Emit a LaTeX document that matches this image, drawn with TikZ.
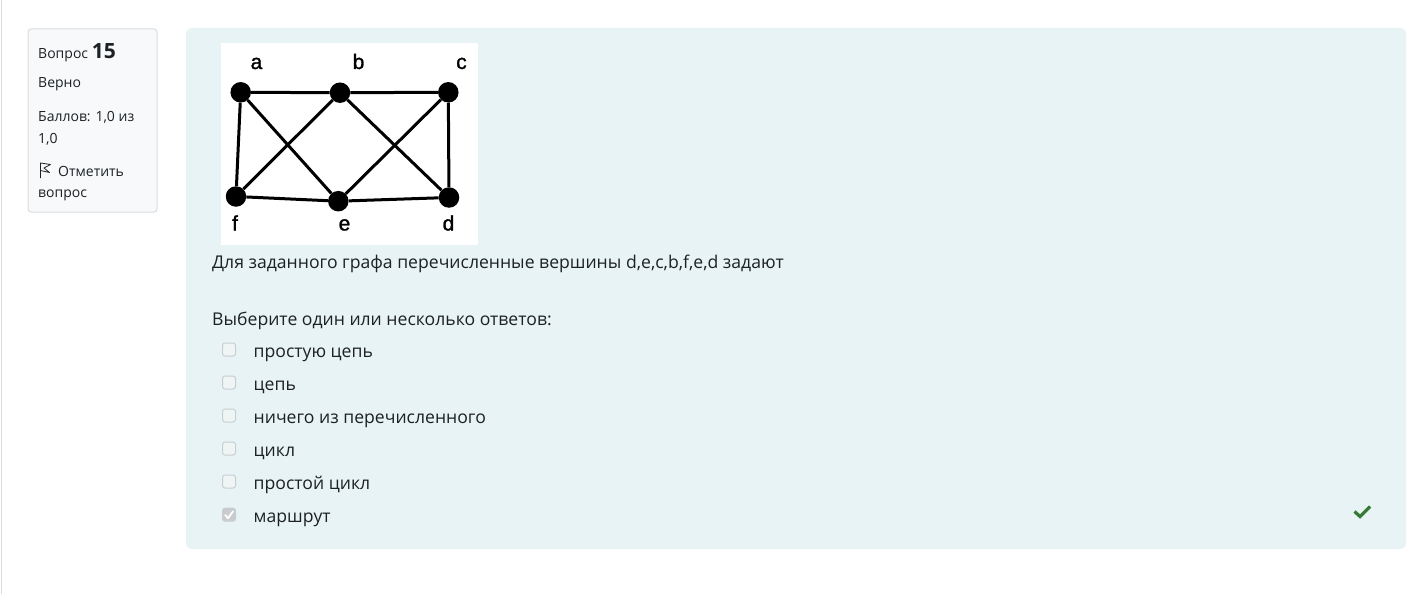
\documentclass[tikz,border=0pt]{standalone}
\usepackage{fontspec}
\setmainfont{Open Sans}
\newfontfamily\labfont[FakeBold=1.2]{Liberation Sans}
\definecolor{panel}{HTML}{E7F3F5}
\definecolor{infobg}{HTML}{F8F9FA}
\definecolor{infoline}{HTML}{D9DDE1}
\definecolor{txt}{HTML}{1D2125}
\definecolor{boxline}{HTML}{C9CED2}
\definecolor{boxfill}{HTML}{EFF4F5}
\definecolor{boxchk}{HTML}{C8CCCF}
\definecolor{okgreen}{HTML}{357A32}
\begin{document}
\begin{tikzpicture}[x=1pt,y=-1pt,
  vtx/.style={circle,fill=black,inner sep=0pt,minimum size=20.5pt},
  edge/.style={line width=3pt},
  glabel/.style={font=\labfont\fontsize{21}{21}\selectfont,anchor=base,inner sep=0pt},
  uitext/.style={font=\fontsize{17.6}{17.6}\selectfont,text=txt,anchor=base west,inner sep=0pt},
  infotext/.style={font=\fontsize{14}{14}\selectfont,text=txt,anchor=base west,inner sep=0pt},
  cbox/.style={draw=boxline,fill=boxfill,line width=1pt,rounded corners=2.5pt,minimum size=13pt,inner sep=0pt}]
\useasboundingbox (0,0) rectangle (1422,594);
\fill[white] (0,0) rectangle (1422,594);
% left border line
\draw[infoline,line width=1.2pt] (1.5,0) -- (1.5,594);
% info box
\draw[infoline,fill=infobg,line width=1pt,rounded corners=3pt] (28,29) rectangle (157,212);
\node[infotext] (q) at (38,59) {Вопрос\ \fontsize{21}{21}\selectfont\bfseries 15};
\node[infotext] (st) at (38,88) {Верно};
\node[infotext] (sc1) at (38,121.5) {Баллов: 1,0 из};
\node[infotext] (sc2) at (38,143) {1,0};
\node[infotext] (fl) at (58,176.5) {Отметить};
\node[infotext] (fl2) at (38,197) {вопрос};
% flag icon
\draw[txt,line width=0.8pt,line join=round] (40.5,178) -- (40.5,163) -- (50.5,164.5) -- (44,168) -- (49.5,172.5) -- (40.5,170.5);
% main panel
\fill[panel,rounded corners=6pt] (186,28) rectangle (1406,549);
% graph image
\fill[white] (220.7,42.7) rectangle (477.7,245);
\node[vtx] (a) at (240.7,92.3) {};
\node[vtx] (b) at (340,92.7) {};
\node[vtx] (c) at (448.3,92.3) {};
\node[vtx] (f) at (236,196.5) {};
\node[vtx] (e) at (338.3,201.2) {};
\node[vtx] (d) at (449,197.5) {};
\draw[edge] (a) -- (b);
\draw[edge] (b) -- (c);
\draw[edge] (a) -- (f);
\draw[edge] (c) -- (d);
\draw[edge] (f) -- (e);
\draw[edge] (e) -- (d);
\draw[edge] (a) -- (e);
\draw[edge] (f) -- (b);
\draw[edge] (b) -- (d);
\draw[edge] (e) -- (c);
\node[glabel] (la) at (256.5,69) {a};
\node[glabel] (lb) at (358.5,69) {b};
\node[glabel] (lc) at (461.5,69) {c};
\node[glabel] (lf) at (235,230.5) {f};
\node[glabel] (le) at (344.5,230.5) {e};
\node[glabel] (ld) at (448.5,230.5) {d};
% question text
\node[uitext] (qt) at (212,268.5) {Для заданного графа перечисленные вершины d,e,c,b,f,e,d задают};
\node[uitext] (pr) at (212,325) {Выберите один или несколько ответов:};
% options
\foreach \i/\t in {0/простую цепь,1/цепь,2/ничего из перечисленного,3/цикл,4/простой цикл}{
  \node[cbox] (cb\i) at (229,349.5+33*\i) {};
  \node[uitext] (op\i) at (253.5,357.5+33*\i) {\t};
}
\node[cbox,draw=boxchk,fill=boxchk] (cb5) at (229,514.7) {};
\node[uitext] (op5) at (253.5,522.5) {маршрут};
% white tick in checked box
\draw[white,line width=1.8pt,line cap=round,line join=round] (225.3,515) -- (228,518.3) -- (233,511.3);
% correct mark
\draw[okgreen,line width=3.2pt,line join=miter] (1354.5,511.5) -- (1360,516.5) -- (1370,506.5);
\end{tikzpicture}
\end{document}
